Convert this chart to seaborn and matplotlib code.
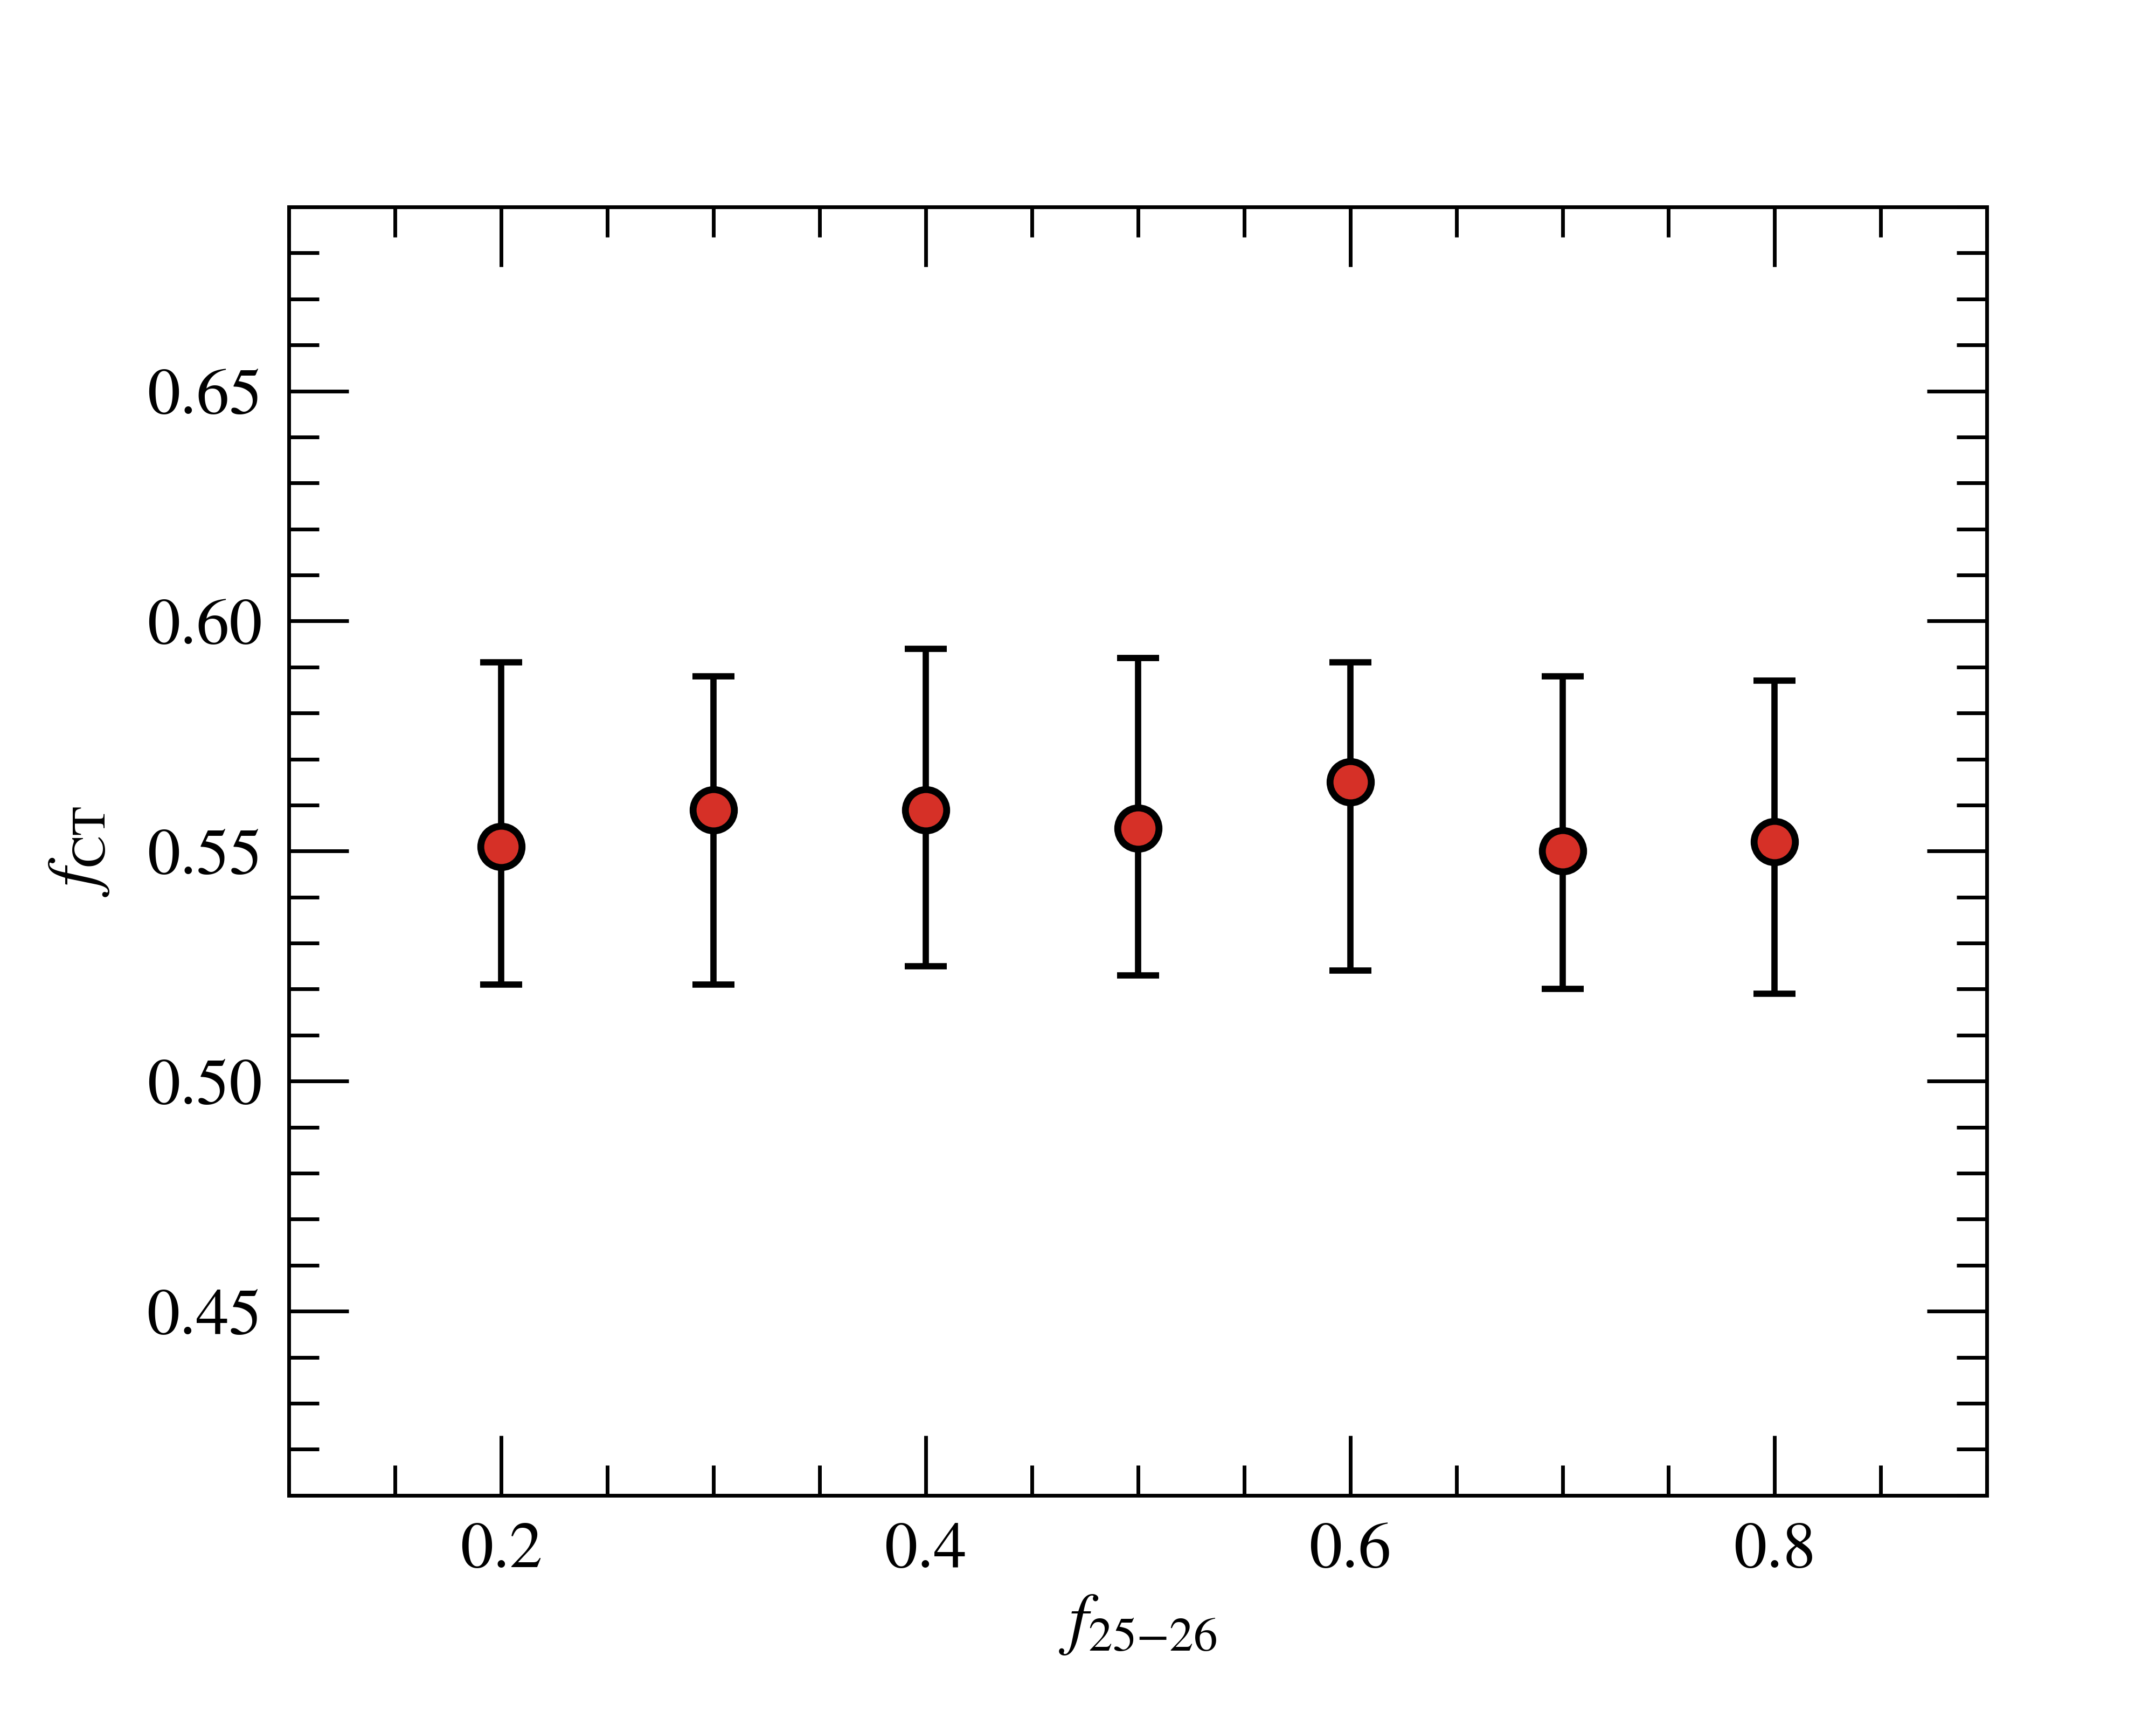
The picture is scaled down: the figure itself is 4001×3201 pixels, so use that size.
import numpy as np
import pandas as pd
import matplotlib
matplotlib.use("Agg")
import matplotlib.pyplot as plt
import seaborn as sns
from matplotlib.ticker import MultipleLocator

# Data
f2526 = [0.2, 0.3, 0.4, 0.5, 0.6, 0.7, 0.8]
fct = [0.551, 0.559, 0.559, 0.555, 0.565, 0.550, 0.552]
fct_upper = [0.591, 0.588, 0.594, 0.592, 0.591, 0.588, 0.587]
fct_lower = [0.521, 0.521, 0.525, 0.523, 0.524, 0.520, 0.519]
xtick_vals = [0.2, 0.4, 0.6, 0.8]
xtick_labels = ["0.2", "0.4", "0.6", "0.8"]
ytick_vals = [0.45, 0.50, 0.55, 0.60, 0.65]
ytick_labels = ["0.45", "0.50", "0.55", "0.60", "0.65"]

df = pd.DataFrame({"x": f2526, "y": fct})
yerr = np.array([np.array(fct) - np.array(fct_lower),
                 np.array(fct_upper) - np.array(fct)])

sns.set_theme(style="ticks")
plt.rcParams["font.family"] = ["STIXGeneral", "DejaVu Serif"]
plt.rcParams["mathtext.fontset"] = "stix"
plt.rcParams["text.color"] = "black"
plt.rcParams["axes.labelcolor"] = "black"
plt.rcParams["xtick.color"] = "black"
plt.rcParams["ytick.color"] = "black"

fig = plt.figure(figsize=(10.0025, 8.0025), dpi=400)
ax = fig.add_axes([0.134, 0.1332, 0.7876, 0.7468])

ax.errorbar(df["x"], df["y"], yerr=yerr, fmt="none", ecolor="black",
            elinewidth=2.1, capsize=7.1, capthick=2.1, zorder=2)
sns.scatterplot(data=df, x="x", y="y", ax=ax, s=190, color="#d63027",
                edgecolor="black", linewidth=2.3, zorder=3, legend=False)

ax.set_xlim(0.1, 0.9)
ax.set_ylim(0.41, 0.69)
ax.set_xticks(xtick_vals)
ax.set_xticklabels(xtick_labels)
ax.xaxis.set_minor_locator(MultipleLocator(0.05))
ax.set_yticks(ytick_vals)
ax.set_yticklabels(ytick_labels)
ax.yaxis.set_minor_locator(MultipleLocator(0.01))

ax.tick_params(which="both", direction="in", top=True, right=True,
               width=1.25, color="black", labelcolor="black")
ax.tick_params(which="major", length=20, labelsize=22, pad=9)
ax.tick_params(which="minor", length=10)
for s in ax.spines.values():
    s.set_linewidth(1.25)
    s.set_color("black")

ax.set_xlabel(r"$f_{25{-}26}$", fontsize=23, labelpad=4, color="black")
ax.set_ylabel(r"$f_{\rm CT}$", fontsize=23, labelpad=12, color="black")

fig.savefig("out.png", dpi=400, facecolor="white")
